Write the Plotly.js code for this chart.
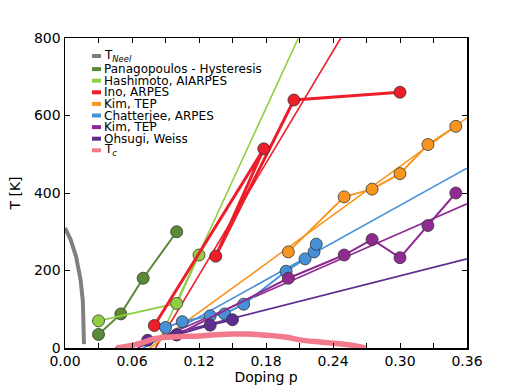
<!DOCTYPE html>
<html>
<head>
<meta charset="utf-8">
<script src="https://cdn.plot.ly/plotly-3.0.1.min.js"></script>
<style>
  body { margin: 0; background: #fff; }
  #chart { width: 518px; height: 388px; }
</style>
</head>
<body>
<div id="chart"></div>
<script>
// values (doping p, temperature in K)
var neelP = [0, 0.005, 0.01, 0.014, 0.016, 0.017]
var neelT = [310, 280, 235, 175, 120, 10]

var panaP = [0.03, 0.05, 0.07, 0.1]
var panaT = [35, 88, 180, 300]

var hashP = [0.03, 0.1, 0.12]
var hashT = [70, 115, 240]
var hashFitP = [0.081, 0.209]
var hashFitT = [0, 800]

var inoP = [0.08, 0.178, 0.135, 0.205, 0.3]
var inoT = [58, 514, 237, 640, 660]
var inoFitP = [0.081, 0.247]
var inoFitT = [0, 800]

var kimP = [0.2, 0.25, 0.275, 0.3, 0.325, 0.35]
var kimT = [248, 390, 410, 450, 525, 572]
var kimFitP = [0.076, 0.36]
var kimFitT = [0, 594]

var chatP = [0.09, 0.105, 0.13, 0.143, 0.16, 0.198, 0.215, 0.223, 0.225]
var chatT = [53, 68, 83, 88, 113, 198, 230, 248, 268]
var chatFitP = [0.07, 0.36]
var chatFitT = [0, 464]

var kimTepP = [0.1, 0.2, 0.25, 0.275, 0.3, 0.325, 0.35]
var kimTepT = [34, 180, 240, 280, 233, 316, 400]
var kimTepFitP = [0.065, 0.36]
var kimTepFitT = [0, 372]

var ohsP = [0.074, 0.1, 0.13, 0.15]
var ohsT = [20, 34, 59, 73]
var ohsFitP = [0.045, 0.36]
var ohsFitT = [0, 230]

var tcP = [0.046, 0.065, 0.082, 0.1, 0.12, 0.135, 0.15, 0.165, 0.18, 0.2, 0.21, 0.23, 0.252, 0.269]
var tcT = [0, 10, 25, 29, 31, 34, 36, 36, 33, 27, 21, 15, 9, 0]

var names = ['T<sub><i>Neel</i></sub>', 'Panagopoulos - Hysteresis', 'Hashimoto, AIARPES', 'Ino, ARPES',
    'Kim, TEP', 'Chatterjee, ARPES', 'Kim, TEP', 'Ohsugi, Weiss', 'T<sub><i>c</i></sub>']
var colors = ['#808080', '#5a8a35', '#8fd043', '#ee1d2a', '#f8951f', '#4590d6', '#8e2a92', '#5e2d91', '#f27a8c']

var FONT = 'DejaVu Sans, Liberation Sans, sans-serif'

function fit(p, t, color, w) {
    return { x: p, y: t, mode: 'lines', line: { color: color, width: w || 1.6 }, hoverinfo: 'skip' }
}

function series(p, t, color, w) {
    return {
        x: p, y: t, mode: 'lines+markers',
        line: { color: color, width: w || 2 },
        marker: { color: color, size: 12, line: { color: '#333', width: 0.8 } }
    }
}

var data = [
    { x: neelP, y: neelT, mode: 'lines', line: { color: colors[0], width: 4 } },
    fit(hashFitP, hashFitT, colors[2]),
    fit(inoFitP, inoFitT, colors[3]),
    fit(kimFitP, kimFitT, colors[4]),
    fit(chatFitP, chatFitT, colors[5]),
    fit(kimTepFitP, kimTepFitT, colors[6]),
    fit(ohsFitP, ohsFitT, colors[7]),
    series(panaP, panaT, colors[1]),
    series(hashP, hashT, colors[2]),
    series(inoP, inoT, colors[3], 3),
    series(kimP, kimT, colors[4]),
    series(chatP, chatT, colors[5]),
    series(kimTepP, kimTepT, colors[6]),
    series(ohsP, ohsT, colors[7]),
    { x: tcP, y: tcT, mode: 'lines', line: { color: colors[8], width: 5.5, shape: 'spline' } }
]

// hand drawn legend (matplotlib-like tight spacing)
var L = 65, R = 467, T = 38, B = 348
function px(v) { return (v - L) / (R - L) }
function py(v) { return (B - v) / (B - T) }
var shapes = []
var annotations = []
names.forEach(function (n, i) {
    var yc = 57.5 + i * 11.6
    if (i == 0) yc = 56
    shapes.push({ type: 'line', xref: 'paper', yref: 'paper', x0: px(92), x1: px(101), y0: py(yc), y1: py(yc),
        line: { color: colors[i], width: 4 } })
    annotations.push({ xref: 'paper', yref: 'paper', x: px(102), y: py(yc), xanchor: 'left', yanchor: 'middle',
        text: n, showarrow: false, font: { family: FONT, size: 12, color: '#000' } })
})

var axis = {
    showgrid: false, zeroline: false, showline: true, linecolor: '#000', linewidth: 1.5,
    mirror: 'ticks', ticks: 'inside', ticklen: 5, tickwidth: 1, tickcolor: '#000',
    tickfont: { family: FONT, size: 14, color: '#000' }
}

var layout = {
    width: 518, height: 388,
    margin: { l: 65, r: 51, t: 38, b: 40 },
    paper_bgcolor: '#fff', plot_bgcolor: '#fff',
    font: { family: FONT, color: '#000' },
    showlegend: false,
    xaxis: Object.assign({}, axis, {
        range: [0, 0.36], tick0: 0, dtick: 0.06, tickformat: '.2f',
        minor: { dtick: 0.03, ticks: 'inside', ticklen: 5, tickcolor: '#000', showgrid: false },
        title: { text: 'Doping p', font: { family: FONT, size: 14 }, standoff: 3 }
    }),
    yaxis: Object.assign({}, axis, {
        range: [0, 800], dtick: 200,
        title: { text: 'T [K]', font: { family: FONT, size: 14 }, standoff: 10 }
    }),
    shapes: shapes,
    annotations: annotations
}

Plotly.newPlot('chart', data, layout, { staticPlot: true, displayModeBar: false })
</script>
</body>
</html>
